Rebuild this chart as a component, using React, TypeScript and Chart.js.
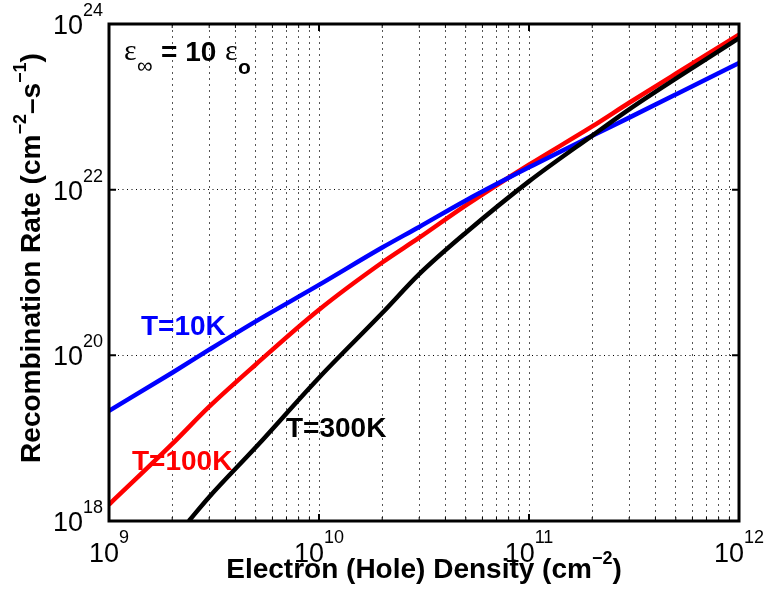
import React, { useEffect, useRef } from 'react';
import { Chart, registerables } from 'chart.js';
Chart.register(...registerables);

// Electron (hole) density, cm^-2
const densities = [1e9, 2e9, 3e9, 5e9, 1e10, 2e10, 3e10, 5e10, 1e11, 2e11, 3e11, 5e11, 1e12];
// Recombination rate, T = 10 K
const rate10K = [2.14e19, 6.17e19, 1.17e20, 2.57e20, 7.08e20, 2.0e21, 3.55e21, 7.41e21, 1.86e22, 4.47e22, 7.41e22, 1.41e23, 3.39e23];
// Recombination rate, T = 100 K
const rate100K = [1.58e18, 8.51e18, 2.4e19, 7.76e19, 3.55e20, 1.32e21, 2.63e21, 6.46e21, 2.0e22, 5.8e22, 1.12e23, 2.51e23, 7.41e23];
// T = 300 K curve (enters the plot at the bottom edge)
const densities300K = [2.4e9, 3e9, 5e9, 1e10, 2e10, 3e10, 5e10, 1e11, 2e11, 3e11, 5e11, 1e12];
const rate300K = [1.0e18, 1.95e18, 7.76e18, 5.37e19, 3.24e20, 9.55e20, 3.02e21, 1.26e22, 4.5e22, 9.33e22, 2.19e23, 6.76e23];

const xTickValues = [1e9, 1e10, 1e11, 1e12];
const xTickExponents = ['9', '10', '11', '12'];
const xMinorMultipliers = [2, 3, 4, 5, 6, 7, 8, 9];
const yTickValues = [1e18, 1e20, 1e22, 1e24];
const yTickExponents = ['18', '20', '22', '24'];

const seriesLabels = ['T=10K', 'T=100K', 'T=300K'];
const seriesColors = ['#0000ff', '#ff0000', '#000000'];

const SANS = "'Liberation Sans', Arial, Helvetica, sans-serif";
const SERIF = "'Liberation Serif', 'Times New Roman', serif";

type Seg = { t: string; font: string; dy: number };

function segsWidth(ctx: CanvasRenderingContext2D, segs: Seg[]) {
  let w = 0;
  for (const s of segs) {
    ctx.font = s.font;
    w += ctx.measureText(s.t).width;
  }
  return w;
}
function drawSegs(ctx: CanvasRenderingContext2D, segs: Seg[], x: number, y: number) {
  let cx = x;
  for (const s of segs) {
    ctx.font = s.font;
    ctx.fillText(s.t, cx, y + s.dy);
    cx += ctx.measureText(s.t).width;
  }
}

const decorPlugin = {
  id: 'decor',
  afterDraw(chart: any) {
    const ctx: CanvasRenderingContext2D = chart.ctx;
    const xs = chart.scales.x;
    const ys = chart.scales.y;
    const { left, right, top, bottom } = chart.chartArea;
    ctx.save();
    ctx.fillStyle = '#000';
    ctx.strokeStyle = '#000';
    ctx.textAlign = 'left';
    ctx.textBaseline = 'alphabetic';

    // inner tick marks
    ctx.lineWidth = 1;
    for (let d = 0; d < xTickValues.length - 1; d++) {
      for (const m of xMinorMultipliers) {
        const px = xs.getPixelForValue(xTickValues[d] * m);
        ctx.beginPath();
        ctx.moveTo(px, bottom);
        ctx.lineTo(px, bottom - 4);
        ctx.moveTo(px, top);
        ctx.lineTo(px, top + 4);
        ctx.stroke();
      }
    }
    ctx.lineWidth = 2;
    for (const v of xTickValues) {
      const px = xs.getPixelForValue(v);
      ctx.beginPath();
      ctx.moveTo(px, bottom);
      ctx.lineTo(px, bottom - 7);
      ctx.moveTo(px, top);
      ctx.lineTo(px, top + 7);
      ctx.stroke();
    }
    for (const v of yTickValues) {
      const py = ys.getPixelForValue(v);
      ctx.beginPath();
      ctx.moveTo(left, py);
      ctx.lineTo(left + 7, py);
      ctx.moveTo(right, py);
      ctx.lineTo(right - 7, py);
      ctx.stroke();
    }

    // frame
    ctx.lineWidth = 3;
    ctx.strokeRect(left, top, right - left, bottom - top);

    // y tick labels
    const baseFont = `27px ${SANS}`;
    const supFont = `18px ${SANS}`;
    yTickValues.forEach((v, i) => {
      const py = ys.getPixelForValue(v);
      ctx.font = supFont;
      const sw = ctx.measureText(yTickExponents[i]).width;
      ctx.font = baseFont;
      const bw = ctx.measureText('10').width;
      const xEnd = left - 6;
      ctx.font = baseFont;
      ctx.fillText('10', xEnd - sw - bw, py + 10);
      ctx.font = supFont;
      ctx.fillText(yTickExponents[i], xEnd - sw, py - 8);
    });
    // x tick labels
    xTickValues.forEach((v, i) => {
      const px = xs.getPixelForValue(v);
      ctx.font = supFont;
      const sw = ctx.measureText(xTickExponents[i]).width;
      ctx.font = baseFont;
      const bw = ctx.measureText('10').width;
      const x0 = px - (sw + bw) / 2;
      ctx.font = baseFont;
      ctx.fillText('10', x0, 562);
      ctx.font = supFont;
      ctx.fillText(xTickExponents[i], x0 + bw, 543);
    });

    // axis titles
    const tFont = `bold 28px ${SANS}`;
    const tsFont = `bold 18px ${SANS}`;
    const xTitle: Seg[] = [
      { t: 'Electron (Hole) Density (cm', font: tFont, dy: 0 },
      { t: '\u22122', font: tsFont, dy: -14 },
      { t: ')', font: tFont, dy: 0 },
    ];
    const xw = segsWidth(ctx, xTitle);
    drawSegs(ctx, xTitle, (left + right) / 2 - xw / 2, 578);

    const yTitle: Seg[] = [
      { t: 'Recombination Rate (cm', font: tFont, dy: 0 },
      { t: '\u22122', font: tsFont, dy: -14 },
      { t: '\u2013s', font: tFont, dy: 0 },
      { t: '\u22121', font: tsFont, dy: -14 },
      { t: ')', font: tFont, dy: 0 },
    ];
    const yw = segsWidth(ctx, yTitle);
    ctx.save();
    ctx.translate(40, 258);
    ctx.rotate(-Math.PI / 2);
    drawSegs(ctx, yTitle, -yw / 2, 0);
    ctx.restore();

    // series labels
    ctx.font = `bold 28px ${SANS}`;
    ctx.fillStyle = seriesColors[0];
    ctx.fillText(seriesLabels[0], 141, 335);
    ctx.fillStyle = seriesColors[1];
    ctx.fillText(seriesLabels[1], 132, 470);
    ctx.fillStyle = seriesColors[2];
    ctx.fillText(seriesLabels[2], 286, 437);

    // epsilon annotation
    ctx.fillStyle = '#000';
    ctx.font = `30px ${SERIF}`;
    ctx.fillText('\u03b5', 124, 60);
    ctx.font = `22px ${SANS}`;
    ctx.fillText('\u221e', 137, 73);
    ctx.font = `bold 28px ${SANS}`;
    ctx.fillText('= 10', 161, 61);
    ctx.font = `30px ${SERIF}`;
    ctx.fillText('\u03b5', 225, 60);
    ctx.font = `bold 21px ${SANS}`;
    ctx.fillText('o', 238, 74);

    ctx.restore();
  },
};

export default function App() {
  const ref = useRef<HTMLCanvasElement | null>(null);
  useEffect(() => {
    if (!ref.current) return;
    const common = {
      borderWidth: 4.5,
      pointRadius: 0,
      fill: false,
      cubicInterpolationMode: 'monotone' as const,
    };
    const chart = new Chart(ref.current, {
      type: 'line',
      data: {
        datasets: [
          {
            ...common,
            label: seriesLabels[0],
            data: densities.map((x, i) => ({ x, y: rate10K[i] })),
            borderColor: seriesColors[0],
            order: 1,
          },
          {
            ...common,
            label: seriesLabels[1],
            data: densities.map((x, i) => ({ x, y: rate100K[i] })),
            borderColor: seriesColors[1],
            order: 2,
          },
          {
            ...common,
            label: seriesLabels[2],
            data: densities300K.map((x, i) => ({ x, y: rate300K[i] })),
            borderColor: seriesColors[2],
            order: 0,
          },
        ],
      },
      options: {
        animation: false,
        responsive: false,
        devicePixelRatio: 1,
        layout: { padding: { left: 0, top: 24, right: 30, bottom: 0 } },
        plugins: { legend: { display: false }, tooltip: { enabled: false } },
        scales: {
          x: {
            type: 'logarithmic',
            min: 1e9,
            max: 1e12,
            ticks: { display: false },
            grid: { color: '#555', lineWidth: 1, drawTicks: false },
            border: { display: false, dash: [2, 4] },
            afterBuildTicks: (scale: any) => {
              const t: any[] = [];
              for (let d = 0; d < xTickValues.length - 1; d++) {
                t.push({ value: xTickValues[d] });
                for (const m of xMinorMultipliers) t.push({ value: xTickValues[d] * m });
              }
              t.push({ value: xTickValues[xTickValues.length - 1] });
              scale.ticks = t;
            },
            afterFit: (scale: any) => {
              scale.height = 71;
            },
          },
          y: {
            type: 'logarithmic',
            min: 1e18,
            max: 1e24,
            ticks: { display: false },
            grid: { color: '#000', lineWidth: 1, drawTicks: false },
            border: { display: false, dash: [1, 3.5] },
            afterBuildTicks: (scale: any) => {
              scale.ticks = yTickValues.map((v) => ({ value: v }));
            },
            afterFit: (scale: any) => {
              scale.width = 109;
            },
          },
        },
      },
      plugins: [decorPlugin],
    });
    return () => chart.destroy();
  }, []);
  return (
    <div style={{ position: 'fixed', left: 0, top: 0, width: 769, height: 592, background: '#fff' }}>
      <canvas ref={ref} width={769} height={592} style={{ display: 'block', width: 769, height: 592 }} />
    </div>
  );
}
